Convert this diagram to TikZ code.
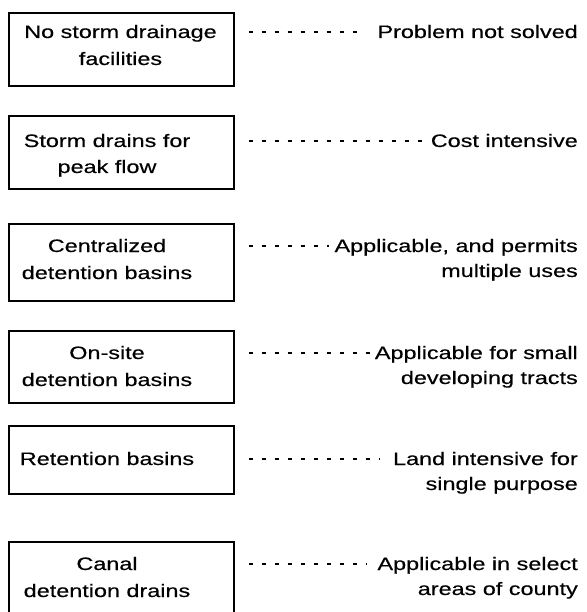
\documentclass[tikz,border=0pt]{standalone}
\usepackage{fontspec}
\setmainfont[FakeStretch=1.3,FakeBold=0.4]{Liberation Sans}
\begin{document}
\begin{tikzpicture}[x=1pt,y=-1pt,
  box/.style={draw, line width=1.7pt, minimum width=225pt, inner sep=0pt, anchor=north west},
  lt/.style={font=\fontsize{18}{22}\selectfont, inner sep=0pt, anchor=base},
  rt/.style={font=\fontsize{18}{22}\selectfont, inner sep=0pt, anchor=base east},
  dl/.style={line width=1.2pt, dash pattern=on 4.5pt off 8.5pt, shorten <=14pt, shorten >=10pt}]
\useasboundingbox (0,0) rectangle (586,612);
% boxes
\node[box, minimum height=73pt] (b1) at (8,12) {};
\node[box, minimum height=73pt] (b2) at (8,115) {};
\node[box, minimum height=77pt] (b3) at (8,223) {};
\node[box, minimum height=72pt] (b4) at (8,330) {};
\node[box, minimum height=68pt] (b5) at (8,425) {};
\node[box, minimum height=80pt] (b6) at (8,541) {};
% left labels
\node[lt] (l1a) at (120.5,38) {No storm drainage};
\node[lt] (l1b) at (120.5,65) {facilities};
\node[lt] (l2a) at (107,147) {Storm drains for};
\node[lt] (l2b) at (107,173) {peak flow};
\node[lt] (l3a) at (107,252) {Centralized};
\node[lt] (l3b) at (107,279) {detention basins};
\node[lt] (l4a) at (107,359) {On-site};
\node[lt] (l4b) at (107,386) {detention basins};
\node[lt] (l5a) at (107,465) {Retention basins};
\node[lt] (l6a) at (107,570) {Canal};
\node[lt] (l6b) at (107,597) {detention drains};
% right labels
\node[rt] (r1a) at (578,38) {Problem not solved};
\node[rt] (r2a) at (578,147) {Cost intensive};
\node[rt] (r3a) at (578,252) {Applicable, and permits};
\node[rt] (r3b) at (578,277) {multiple uses};
\node[rt] (r4a) at (578,359) {Applicable for small};
\node[rt] (r4b) at (578,384) {developing tracts};
\node[rt] (r5a) at (578,465) {Land intensive for};
\node[rt] (r5b) at (578,490) {single purpose};
\node[rt] (r6a) at (578,570) {Applicable in select};
\node[rt] (r6b) at (578,595) {areas of county};
% connector ends
\coordinate (d1) at ([yshift=6pt]r1a.base west);
\coordinate (d2) at ([yshift=6pt]r2a.base west);
\coordinate (d3) at ([yshift=6pt]r3a.base west);
\coordinate (d4) at ([yshift=6pt]r4a.base west);
\coordinate (d5) at ([yshift=6pt]r5a.base west);
\coordinate (d6) at ([yshift=6pt]r6a.base west);
\draw[dl, shorten >=14pt] (b1.east |- d1) -- (d1);
\draw[dl, shorten >=3pt] (b2.east |- d2) -- (d2);
\draw[dl, shorten >=5pt] (b3.east |- d3) -- (d3);
\draw[dl, shorten >=3pt] (b4.east |- d4) -- (d4);
\draw[dl, shorten >=14pt] (b5.east |- d5) -- (d5);
\draw[dl] (b6.east |- d6) -- (d6);
\end{tikzpicture}
\end{document}
